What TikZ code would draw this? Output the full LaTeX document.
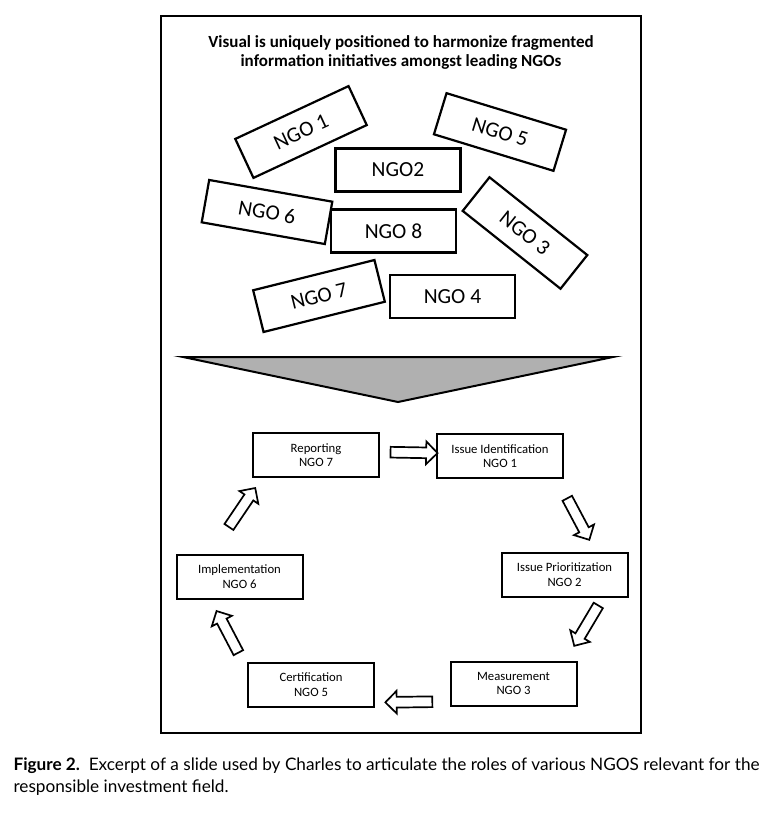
\documentclass[tikz,border=0pt]{standalone}
\usepackage{fontspec}
\setmainfont{Carlito}
\newfontfamily\captionfont{Lato}
\usetikzlibrary{calc,shapes.arrows}

\definecolor{funnelgray}{RGB}{176,176,176}

\tikzset{
  ngo/.style={draw, line width=2.2pt, minimum width=125pt, minimum height=43pt,
    inner sep=0pt, font=\fontsize{21.5}{21.5}\selectfont},
  stage/.style={draw, line width=2pt, minimum width=126pt, minimum height=44pt,
    inner sep=0pt, align=center, font=\fontsize{12.7}{14.7}\selectfont},
  flow/.style={single arrow, draw, line width=1.7pt, fill=white, minimum height=47pt,
    minimum width=21pt, single arrow head extend=6pt, inner xsep=0pt, inner ysep=4.5pt,
    sloped, allow upside down}
}

\begin{document}
\begin{tikzpicture}[x=1pt,y=-1pt]

\useasboundingbox (0,0) rectangle (782,816);
\draw[line width=1.2pt] (161,16) rectangle (641,733);

\node[font=\bfseries\fontsize{17}{19}\selectfont, align=center] (title) at (401,52.5)
  {Visual is uniquely positioned to harmonize fragmented\\information initiatives amongst leading NGOs};

% scattered NGOs
\node[ngo, rotate=25] (ngoa) at (301,132) {NGO 1};
\node[ngo, rotate=-17] (ngoe) at (500,132) {NGO 5};
\node[ngo] (ngob) at (398,170) {NGO2};
\node[ngo, rotate=-10] (ngof) at (267,212) {NGO 6};
\node[ngo] (ngoh) at (393.5,231) {NGO 8};
\node[ngo, rotate=-38.5] (ngoc) at (525,233) {NGO 3};
\node[ngo, rotate=14] (ngog) at (319,296) {NGO 7};
\node[ngo] (ngod) at (452.5,296.5) {NGO 4};

\draw[fill=funnelgray, line width=2pt] (183,357) -- (613,357) -- (398,402) -- cycle;

% cycle of roles
\node[stage] (rep) at (316,455) {Reporting\\NGO 7};
\node[stage] (iid) at (500,456) {Issue Identification\\NGO 1};
\node[stage] (ipr) at (564.5,574.5) {Issue Prioritization\\NGO 2};
\node[stage] (mea) at (513.5,683.5) {Measurement\\NGO 3};
\node[stage] (cer) at (311,684.5) {Certification\\NGO 5};
\node[stage] (imp) at (239.5,576.5) {Implementation\\NGO 6};

\path ([yshift=3pt]rep.east) -- ([yshift=3pt]iid.west) node[flow, pos=0.56] (fa) {};
\path ([xshift=-7pt]iid.south east) -- ([xshift=31pt]ipr.north) node[flow, pos=0.52] (fb) {};
\path ([xshift=38.5pt]ipr.south) -- ([xshift=52pt]mea.north) node[flow, pos=0.41] (fc) {};
\path ([yshift=-18pt]mea.west) -- ([yshift=-18pt]cer.east) node[flow, pos=0.51] (fd) {};
\path ([xshift=-68pt]cer.north) -- ([xshift=-29pt]imp.south) node[flow, pos=0.44] (fe) {};
\path ([xshift=-28.5pt]imp.north) -- ([xshift=-54pt]rep.south) node[flow, pos=0.58] (ff) {};

\node[font=\captionfont\fontsize{17.2}{22}\selectfont, align=left, anchor=base west] (caption) at (10,792)
  {\textbf{Figure 2.}\ \ Excerpt of a slide used by Charles to articulate the roles of various NGOS relevant for the\\responsible investment field.};

\end{tikzpicture}
\end{document}
